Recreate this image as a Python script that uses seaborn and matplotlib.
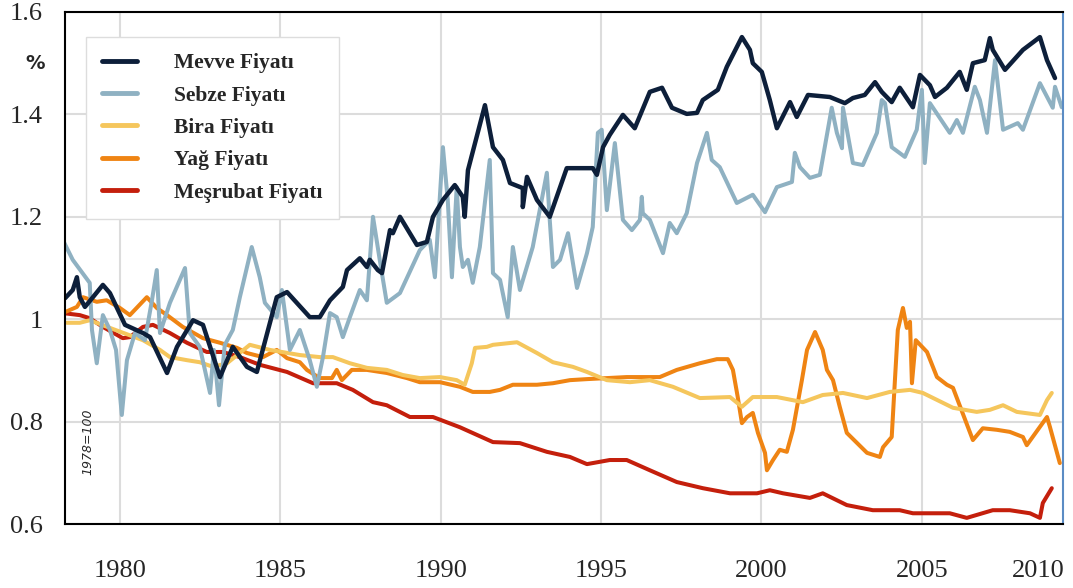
import seaborn as sns
import matplotlib.pyplot as plt
import numpy as np
import pandas as pd

# values (1978=100)
mevve_yil = [1978.29, 1978.53, 1978.66, 1978.75, 1978.91, 1979.16, 1979.47, 1979.69, 1980.16, 1980.72,
             1980.94, 1981.47, 1981.78, 1982.28, 1982.59, 1983.12, 1983.52, 1983.96, 1984.27, 1984.89,
             1985.21, 1985.92, 1986.23, 1986.55, 1986.95, 1987.08, 1987.48, 1987.70, 1987.79, 1988.04,
             1988.17, 1988.42, 1988.51, 1988.73, 1989.26, 1989.57, 1989.76, 1990.07, 1990.44, 1990.69,
             1990.75, 1990.85, 1991.38, 1991.63, 1991.94, 1992.16, 1992.56, 1992.56, 1992.69, 1993.00,
             1993.40, 1993.93, 1994.74, 1994.87, 1995.06, 1995.27, 1995.68, 1996.05, 1996.52, 1996.90,
             1997.21, 1997.67, 1997.99, 1998.17, 1998.64, 1998.92, 1999.39, 1999.64, 1999.73, 2000.01,
             2000.26, 2000.48, 2000.89, 2001.10, 2001.45, 2002.13, 2002.60, 2002.85, 2003.22, 2003.54,
             2003.75, 2004.06, 2004.31, 2004.72, 2004.94, 2005.25, 2005.41, 2005.78, 2006.18, 2006.40,
             2006.59, 2006.96, 2007.12, 2007.21, 2007.59, 2008.15, 2008.68, 2008.90, 2009.15]
mevve = [1.041, 1.057, 1.082, 1.043, 1.024, 1.043, 1.067, 1.051, 0.989, 0.973,
         0.965, 0.895, 0.946, 0.998, 0.989, 0.887, 0.946, 0.907, 0.897, 1.043,
         1.053, 1.004, 1.004, 1.037, 1.063, 1.096, 1.119, 1.102, 1.116, 1.096,
         1.090, 1.174, 1.168, 1.200, 1.145, 1.151, 1.200, 1.233, 1.262, 1.239,
         1.200, 1.291, 1.418, 1.336, 1.311, 1.266, 1.256, 1.219, 1.278, 1.233,
         1.200, 1.295, 1.295, 1.282, 1.336, 1.360, 1.399, 1.373, 1.444, 1.452,
         1.413, 1.401, 1.403, 1.428, 1.448, 1.493, 1.551, 1.526, 1.500, 1.483,
         1.428, 1.373, 1.424, 1.395, 1.438, 1.434, 1.422, 1.432, 1.438, 1.463,
         1.444, 1.424, 1.452, 1.414, 1.477, 1.457, 1.434, 1.452, 1.483, 1.448,
         1.500, 1.506, 1.549, 1.526, 1.487, 1.526, 1.551, 1.506, 1.471]

sebze_yil = [1978.22, 1978.53, 1979.06, 1979.13, 1979.28, 1979.47, 1979.69, 1979.88, 1980.06, 1980.22,
             1980.47, 1980.78, 1981.00, 1981.15, 1981.25, 1981.56, 1982.03, 1982.18, 1982.49, 1982.81,
             1982.93, 1983.09, 1983.27, 1983.52, 1983.74, 1984.11, 1984.36, 1984.52, 1984.89, 1985.05,
             1985.30, 1985.61, 1985.92, 1986.14, 1986.33, 1986.55, 1986.76, 1986.95, 1987.17, 1987.48,
             1987.70, 1987.89, 1988.10, 1988.32, 1988.73, 1989.35, 1989.66, 1989.82, 1990.07, 1990.22,
             1990.35, 1990.50, 1990.60, 1990.69, 1990.85, 1991.00, 1991.22, 1991.53, 1991.63, 1991.85,
             1992.09, 1992.25, 1992.47, 1992.87, 1993.31, 1993.40, 1993.50, 1993.72, 1993.97, 1994.25,
             1994.56, 1994.74, 1994.90, 1995.02, 1995.18, 1995.43, 1995.68, 1995.96, 1996.21, 1996.27,
             1996.30, 1996.52, 1996.93, 1997.14, 1997.36, 1997.67, 1997.99, 1998.30, 1998.45, 1998.70,
             1999.23, 1999.73, 2000.11, 2000.48, 2000.95, 2001.04, 2001.20, 2001.51, 2001.82, 2002.19,
             2002.35, 2002.51, 2002.54, 2002.85, 2003.16, 2003.60, 2003.75, 2003.85, 2004.06, 2004.47,
             2004.84, 2005.00, 2005.09, 2005.25, 2005.87, 2006.09, 2006.28, 2006.65, 2006.81, 2007.03,
             2007.28, 2007.53, 2007.99, 2008.15, 2008.68, 2009.08, 2009.15, 2009.36]
sebze = [1.155, 1.116, 1.071, 0.979, 0.914, 1.008, 0.979, 0.940, 0.813, 0.920,
         0.973, 0.959, 1.037, 1.096, 0.973, 1.032, 1.100, 0.973, 0.946, 0.856,
         0.940, 0.832, 0.950, 0.979, 1.043, 1.141, 1.082, 1.032, 1.004, 1.057,
         0.940, 0.979, 0.920, 0.868, 0.926, 1.012, 1.004, 0.965, 1.004, 1.057,
         1.037, 1.200, 1.116, 1.032, 1.051, 1.135, 1.155, 1.082, 1.336, 1.233,
         1.082, 1.258, 1.141, 1.102, 1.116, 1.071, 1.141, 1.311, 1.090, 1.077,
         1.004, 1.141, 1.057, 1.141, 1.286, 1.194, 1.102, 1.116, 1.168, 1.061,
         1.129, 1.180, 1.364, 1.370, 1.213, 1.344, 1.194, 1.174, 1.194, 1.239,
         1.207, 1.194, 1.129, 1.188, 1.168, 1.207, 1.305, 1.364, 1.311, 1.297,
         1.227, 1.243, 1.209, 1.258, 1.268, 1.325, 1.297, 1.276, 1.282, 1.413,
         1.364, 1.334, 1.413, 1.305, 1.301, 1.364, 1.428, 1.422, 1.336, 1.317,
         1.370, 1.448, 1.305, 1.422, 1.364, 1.389, 1.364, 1.454, 1.428, 1.364,
         1.506, 1.370, 1.383, 1.370, 1.461, 1.413, 1.454, 1.414]

bira_yil = [1978.35, 1978.75, 1979.06, 1979.69, 1980.72, 1981.25, 1981.56, 1982.09, 1982.49, 1982.90,
            1983.34, 1984.05, 1984.68, 1985.61, 1986.23, 1986.64, 1987.17, 1987.70, 1988.32, 1988.82,
            1989.35, 1989.98, 1990.50, 1990.75, 1990.97, 1991.07, 1991.44, 1991.63, 1992.38, 1993.00,
            1993.50, 1994.12, 1994.56, 1995.18, 1995.90, 1996.52, 1997.24, 1998.08, 1999.02, 1999.39,
            1999.73, 2000.48, 2001.29, 2001.91, 2002.54, 2003.29, 2004.00, 2004.63, 2005.03, 2005.97,
            2006.71, 2007.12, 2007.53, 2007.96, 2008.68, 2008.90, 2009.05]
bira = [0.993, 0.993, 0.998, 0.983, 0.959, 0.940, 0.926, 0.920, 0.916, 0.907,
        0.914, 0.950, 0.940, 0.930, 0.926, 0.926, 0.914, 0.905, 0.901, 0.891,
        0.885, 0.887, 0.881, 0.872, 0.914, 0.944, 0.946, 0.950, 0.955, 0.934,
        0.916, 0.907, 0.897, 0.881, 0.877, 0.881, 0.868, 0.846, 0.848, 0.829,
        0.848, 0.848, 0.838, 0.852, 0.856, 0.846, 0.858, 0.862, 0.856, 0.827,
        0.819, 0.823, 0.832, 0.819, 0.813, 0.842, 0.856]

yag_yil = [1978.22, 1978.66, 1978.85, 1979.28, 1979.59, 1980.00, 1980.31, 1980.84, 1981.15, 1981.47,
           1981.96, 1982.59, 1983.12, 1983.65, 1983.96, 1984.46, 1984.89, 1985.21, 1985.61, 1985.83,
           1986.23, 1986.61, 1986.76, 1986.92, 1987.23, 1987.70, 1988.32, 1988.95, 1989.35, 1989.98,
           1990.60, 1991.00, 1991.53, 1991.85, 1992.25, 1993.00, 1993.50, 1994.03, 1994.56, 1995.18,
           1995.80, 1996.83, 1997.36, 1998.08, 1998.61, 1998.95, 1999.11, 1999.26, 1999.39, 1999.55,
           1999.73, 1999.89, 2000.11, 2000.17, 2000.36, 2000.57, 2000.79, 2000.98, 2001.26, 2001.42,
           2001.67, 2001.91, 2002.04, 2002.23, 2002.44, 2002.66, 2003.29, 2003.69, 2003.79, 2004.06,
           2004.16, 2004.25, 2004.41, 2004.53, 2004.63, 2004.69, 2004.81, 2005.16, 2005.47, 2005.78,
           2005.97, 2006.59, 2006.90, 2007.34, 2007.74, 2008.15, 2008.27, 2008.90, 2008.99, 2009.30]
yag = [1.012, 1.024, 1.043, 1.034, 1.037, 1.022, 1.008, 1.043, 1.022, 1.008,
       0.985, 0.963, 0.954, 0.944, 0.934, 0.926, 0.940, 0.924, 0.916, 0.901,
       0.885, 0.885, 0.901, 0.881, 0.901, 0.901, 0.895, 0.885, 0.877, 0.877,
       0.868, 0.858, 0.858, 0.862, 0.872, 0.872, 0.875, 0.881, 0.883, 0.885,
       0.887, 0.887, 0.901, 0.914, 0.922, 0.922, 0.901, 0.848, 0.797, 0.809,
       0.817, 0.778, 0.739, 0.705, 0.725, 0.745, 0.741, 0.784, 0.881, 0.940,
       0.975, 0.940, 0.901, 0.881, 0.829, 0.778, 0.739, 0.731, 0.750, 0.770,
       0.881, 0.979, 1.022, 0.983, 0.995, 0.875, 0.959, 0.936, 0.887, 0.872,
       0.866, 0.764, 0.787, 0.784, 0.780, 0.770, 0.754, 0.809, 0.790, 0.719]

mesrubat_yil = [1978.22, 1978.75, 1979.06, 1979.47, 1980.09, 1980.31, 1980.72, 1981.03, 1981.56, 1982.09,
                1982.71, 1983.21, 1983.74, 1984.36, 1985.21, 1986.02, 1986.76, 1987.26, 1987.89, 1988.32,
                1989.04, 1989.76, 1990.60, 1991.63, 1992.47, 1993.31, 1994.03, 1994.56, 1995.27, 1995.80,
                1996.52, 1997.36, 1998.17, 1999.02, 1999.86, 2000.26, 2000.67, 2001.51, 2001.91, 2002.66,
                2003.47, 2004.31, 2004.72, 2005.87, 2006.40, 2007.21, 2007.74, 2008.37, 2008.68, 2008.77,
                2009.05]
mesrubat = [1.012, 1.008, 1.002, 0.985, 0.963, 0.965, 0.985, 0.989, 0.973, 0.954,
            0.936, 0.936, 0.926, 0.911, 0.897, 0.875, 0.875, 0.862, 0.838, 0.832,
            0.809, 0.809, 0.789, 0.760, 0.758, 0.741, 0.731, 0.717, 0.725, 0.725,
            0.705, 0.682, 0.670, 0.660, 0.660, 0.666, 0.660, 0.651, 0.660, 0.637,
            0.627, 0.627, 0.621, 0.621, 0.612, 0.627, 0.627, 0.621, 0.612, 0.641,
            0.670]

seriler = ['Mevve Fiyatı', 'Sebze Fiyatı', 'Bira Fiyatı', 'Yağ Fiyatı', 'Meşrubat Fiyatı']
renkler = ['#0d1f3a', '#8fb1c2', '#f5c65c', '#ef8413', '#c41f0c']
x_ticks = [1980, 1985, 1990, 1995, 2000, 2005, 2008.62]
x_labels = ['1980', '1985', '1990', '1995', '2000', '2005', '2010']
y_ticks = [0.6, 0.8, 1.0, 1.2, 1.4, 1.6]
y_labels = ['0.6', '0.8', '1', '1.2', '1.4', '1.6']

df = pd.concat([
    pd.DataFrame({'Yil': mevve_yil, 'Deger': mevve, 'Seri': seriler[0]}),
    pd.DataFrame({'Yil': sebze_yil, 'Deger': sebze, 'Seri': seriler[1]}),
    pd.DataFrame({'Yil': bira_yil, 'Deger': bira, 'Seri': seriler[2]}),
    pd.DataFrame({'Yil': yag_yil, 'Deger': yag, 'Seri': seriler[3]}),
    pd.DataFrame({'Yil': mesrubat_yil, 'Deger': mesrubat, 'Seri': seriler[4]}),
], ignore_index=True)

sns.set_style('white')
plt.rcParams['font.family'] = ['Liberation Serif', 'DejaVu Serif']

fig = plt.figure(figsize=(10.73, 5.88), dpi=100)
ax = fig.add_axes([0.0606, 0.1088, 0.9301, 0.8708])

# draw bottom series first so Mevve ends on top
for s in seriler[::-1]:
    sub = df[df['Seri'] == s]
    sns.lineplot(data=sub, x='Yil', y='Deger', color=renkler[seriler.index(s)],
                 lw=3.2 if s == seriler[0] else 2.9, sort=False, estimator=None, ax=ax, label=s)

ax.set_xlim(1978.29, 2009.4)
ax.set_ylim(0.6, 1.6)
ax.set_xticks(x_ticks)
ax.set_xticklabels(x_labels, fontsize=19)
ax.set_yticks(y_ticks)
ax.set_yticklabels(y_labels, fontsize=19)
ax.set_xlabel('')
ax.set_ylabel('')
ax.grid(True, color='#dcdcdc', lw=1.5, zorder=0)
ax.set_axisbelow(True)
ax.xaxis.get_gridlines()[-1].set_visible(False)
ax.tick_params(axis='x', length=15, width=1.5, color='#dcdcdc', pad=11)
ax.tick_params(axis='y', length=0, pad=16)
ax.xaxis.get_major_ticks()[-1].tick1line.set_visible(False)

for side in ['left', 'bottom', 'top']:
    ax.spines[side].set_color('black')
    ax.spines[side].set_linewidth(1.5)
ax.spines['right'].set_color('#5b8cc4')
ax.spines['right'].set_linewidth(1.5)

handles, labels = ax.get_legend_handles_labels()
order = [labels.index(s) for s in seriler]
leg = ax.legend([handles[i] for i in order], [labels[i] for i in order],
                loc='upper left', bbox_to_anchor=(0.021, 0.951), frameon=True,
                fancybox=False, edgecolor='#dddddd', framealpha=1, borderaxespad=0,
                prop={'family': 'Liberation Serif', 'weight': 'bold', 'size': 15.5},
                handlelength=1.6, handletextpad=1.75, labelspacing=0.57, borderpad=0.75)
for line in leg.get_lines():
    line.set_linewidth(3.5)

ax.text(-0.02, 0.9, '%', transform=ax.transAxes, fontsize=14, fontweight='bold',
        family='DejaVu Sans', ha='right', va='center')
ax.text(0.023, 0.16, '1978=100', transform=ax.transAxes, fontsize=9, style='italic',
        family='DejaVu Sans', rotation=90, ha='center', va='center')

plt.savefig('out.png', dpi=100)
